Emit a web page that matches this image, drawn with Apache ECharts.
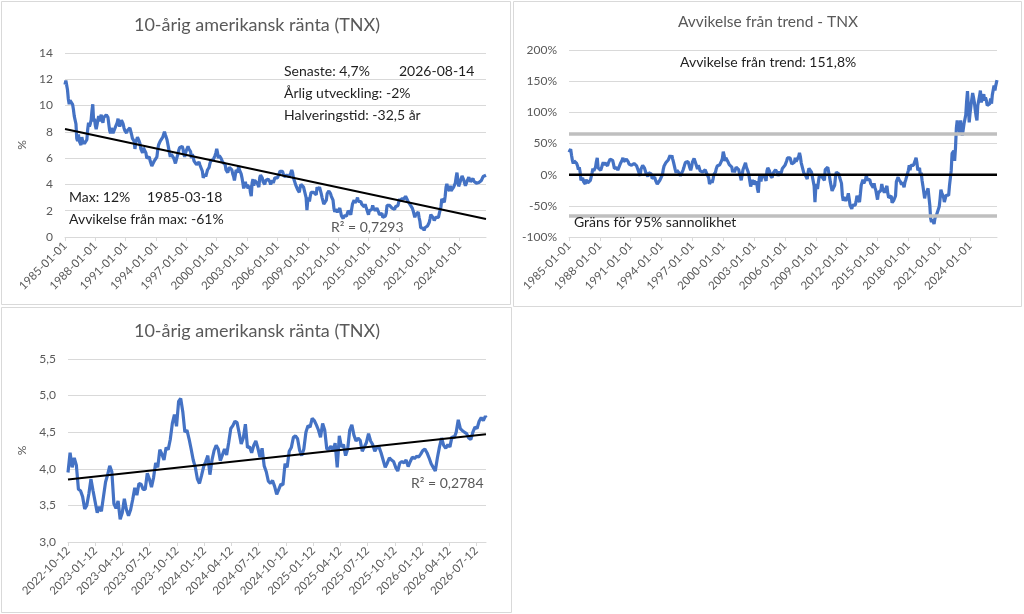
<!DOCTYPE html>
<html><head><meta charset="utf-8">
<script src="https://cdn.jsdelivr.net/npm/echarts@6/dist/echarts.min.js"></script>
<style>html,body{margin:0;padding:0;background:#fff;}#c{width:1024px;height:614px;}</style>
</head><body><div id="c"></div>
<script>
// ---------- DATA ----------
// Monthly 10-year yield (%) from 1985-01 to 2026-08 (last point dated 2026-08-14)
const longStart = [1985, 0];
const longLastDate = [2026, 7, 14];
const yieldMonthly = [
11.6,11.9,12.0,11.2,10.5,10.1,10.4,10.3,10.4,10.1,9.7,9.2,
9.2,8.6,7.5,7.3,7.8,7.3,7.2,7.0,7.6,7.3,7.2,7.1,
7.1,7.2,7.4,8.2,8.7,8.4,8.6,8.9,9.6,10.1,8.8,9.0,
8.5,8.2,8.5,8.9,9.2,8.8,9.1,9.3,8.9,8.7,9.1,9.1,
9.2,9.3,9.3,9.1,8.6,8.1,7.9,8.3,8.2,7.9,7.8,7.9,
8.4,8.5,8.7,9.0,8.6,8.4,8.5,8.9,8.9,8.6,8.3,8.1,
8.0,7.9,8.1,8.0,8.1,8.3,8.2,7.8,7.5,7.5,7.3,6.7,
7.2,7.3,7.6,7.5,7.3,7.1,6.7,6.6,6.4,6.8,6.9,6.7,
6.4,6.0,6.0,6.0,6.1,5.8,5.8,5.4,5.3,5.4,5.8,5.8,
5.7,6.1,6.6,7.0,7.1,7.3,7.2,7.3,7.6,7.8,8.0,7.8,
7.7,7.4,7.1,7.0,6.4,6.1,6.3,6.4,6.2,6.0,5.8,5.6,
5.6,6.1,6.3,6.6,6.8,6.9,6.8,6.9,6.7,6.3,6.1,6.4,
6.6,6.5,6.9,6.7,6.7,6.5,6.0,6.3,6.1,5.8,5.9,5.7,
5.5,5.6,5.6,5.7,5.5,5.4,5.5,5.0,4.5,4.4,4.8,4.6,
4.7,5.1,5.2,5.3,5.6,5.8,5.9,5.9,5.9,6.0,6.2,6.4,
6.7,6.4,6.0,6.2,6.3,6.0,6.0,5.7,5.8,5.7,5.5,5.1,
5.1,4.9,4.9,5.3,5.4,5.2,5.1,4.8,4.6,4.3,4.7,5.1,
5.0,4.9,5.4,5.1,5.0,4.8,4.5,4.1,3.7,3.9,4.2,3.8,
4.0,3.7,3.8,3.9,3.4,3.1,4.1,4.4,3.9,4.3,4.3,4.3,
4.1,4.0,3.8,4.5,4.7,4.6,4.5,4.2,4.1,4.0,4.3,4.2,
4.2,4.4,4.5,4.2,4.0,3.9,4.3,4.1,4.3,4.5,4.5,4.4,
4.5,4.6,4.8,5.0,5.1,5.1,5.0,4.8,4.6,4.6,4.5,4.7,
4.8,4.6,4.6,4.7,4.9,5.1,4.9,4.5,4.6,4.4,3.9,4.0,
3.6,3.5,3.4,3.8,4.0,4.0,4.0,3.8,3.8,3.9,3.0,2.05,
2.8,3.0,2.7,3.1,3.4,3.5,3.5,3.4,3.3,3.4,3.2,3.8,
3.6,3.6,3.8,3.7,3.3,3.0,2.9,2.5,2.5,2.6,2.8,3.3,
3.4,3.5,3.5,3.3,3.1,3.2,2.8,2.2,1.9,2.1,2.0,1.9,
1.8,2.0,2.2,1.9,1.6,1.6,1.4,1.6,1.6,1.7,1.6,1.8,
2.0,1.9,1.9,1.7,2.1,2.5,2.6,2.8,2.6,2.6,2.8,3.0,
2.7,2.7,2.7,2.7,2.5,2.5,2.6,2.3,2.5,2.3,2.2,2.2,
1.7,2.0,1.9,2.0,2.1,2.4,2.2,2.2,2.0,2.1,2.2,2.3,
1.9,1.7,1.8,1.8,1.8,1.5,1.4,1.6,1.6,1.8,2.4,2.4,
2.5,2.4,2.4,2.3,2.2,2.3,2.3,2.1,2.3,2.4,2.4,2.4,
2.7,2.9,2.7,2.9,2.9,2.9,2.9,2.9,3.1,3.2,3.0,2.7,
2.6,2.7,2.4,2.5,2.2,2.0,2.0,1.5,1.7,1.7,1.8,1.9,
1.5,1.2,0.7,0.55,0.65,0.66,0.5,0.7,0.68,0.85,0.84,0.92,
1.1,1.4,1.7,1.6,1.6,1.45,1.25,1.3,1.5,1.55,1.45,1.5,
1.8,1.8,2.3,2.9,2.85,3.0,2.65,3.1,3.8,4.05,3.7,3.85,
3.5,3.9,3.5,3.4,3.6,3.8,3.95,4.1,4.55,4.9,4.35,3.85,
4.0,4.25,4.2,4.65,4.5,4.35,4.1,3.9,3.75,4.25,4.2,4.55,
4.55,4.2,4.25,4.15,4.45,4.25,4.35,4.25,4.1,4.05,4.05,4.15,
4.2,4.05,4.3,4.35,4.6,4.45,4.6,4.7
];
// Linear trend line end values (%) for the long chart
const longTrend = [8.22, 1.37];

// Monthly deviation from trend (fraction), same dates as yieldMonthly
const deviationMonthly = [
0.36,0.39,0.41,0.31,0.23,0.18,0.22,0.21,0.22,0.18,0.14,0.08,
0.12,0.04,-0.09,-0.11,-0.05,-0.11,-0.13,-0.15,-0.08,-0.11,-0.13,-0.14,
-0.10,-0.09,-0.07,0.03,0.10,0.06,0.08,0.12,0.21,0.27,0.11,0.13,
0.11,0.07,0.11,0.16,0.20,0.15,0.19,0.22,0.16,0.14,0.19,0.19,
0.25,0.26,0.26,0.23,0.17,0.10,0.07,0.13,0.11,0.07,0.06,0.07,
0.18,0.20,0.23,0.27,0.21,0.18,0.20,0.25,0.25,0.21,0.17,0.14,
0.17,0.15,0.18,0.17,0.18,0.21,0.20,0.14,0.10,0.10,0.07,-0.02,
0.09,0.11,0.15,0.14,0.11,0.08,0.02,0.00,-0.03,0.03,0.05,0.02,
0.01,-0.06,-0.06,-0.06,-0.04,-0.09,-0.09,-0.15,-0.17,-0.15,-0.09,-0.09,
-0.07,0.00,0.08,0.14,0.16,0.19,0.18,0.19,0.24,0.27,0.31,0.27,
0.31,0.25,0.20,0.19,0.08,0.03,0.07,0.08,0.05,0.02,-0.02,-0.05,
-0.02,0.07,0.11,0.16,0.20,0.21,0.20,0.21,0.18,0.11,0.07,0.12,
0.20,0.19,0.26,0.22,0.22,0.19,0.09,0.15,0.11,0.06,0.08,0.04,
0.04,0.06,0.06,0.08,0.04,0.02,0.04,-0.05,-0.15,-0.17,-0.09,-0.13,
-0.08,0.00,0.02,0.04,0.10,0.14,0.16,0.16,0.16,0.18,0.22,0.26,
0.37,0.31,0.22,0.27,0.29,0.22,0.22,0.16,0.18,0.16,0.12,0.04,
0.08,0.04,0.04,0.12,0.14,0.10,0.08,0.02,-0.03,-0.09,0.00,0.08,
0.10,0.08,0.19,0.12,0.10,0.05,-0.01,-0.10,-0.19,-0.14,-0.08,-0.16,
-0.09,-0.16,-0.13,-0.11,-0.23,-0.29,-0.07,0.00,-0.11,-0.02,-0.02,-0.02,
-0.03,-0.05,-0.10,0.06,0.11,0.09,0.06,-0.01,-0.03,-0.05,0.02,-0.01,
0.03,0.08,0.10,0.03,-0.02,-0.04,0.05,0.00,0.05,0.10,0.10,0.08,
0.15,0.17,0.22,0.27,0.30,0.30,0.27,0.22,0.17,0.17,0.15,0.20,
0.27,0.21,0.21,0.24,0.29,0.35,0.29,0.19,0.21,0.16,0.03,0.06,
-0.01,-0.04,-0.07,0.04,0.10,0.10,0.10,0.04,0.04,0.07,-0.18,-0.44,
-0.20,-0.15,-0.23,-0.12,-0.03,0.00,0.00,-0.03,-0.06,-0.03,-0.09,0.08,
0.06,0.06,0.12,0.09,-0.03,-0.12,-0.14,-0.26,-0.26,-0.23,-0.17,-0.03,
0.04,0.07,0.07,0.01,-0.05,-0.02,-0.14,-0.33,-0.42,-0.36,-0.39,-0.42,
-0.43,-0.36,-0.30,-0.39,-0.49,-0.49,-0.55,-0.49,-0.49,-0.46,-0.49,-0.43,
-0.34,-0.37,-0.37,-0.44,-0.31,-0.17,-0.14,-0.08,-0.14,-0.14,-0.08,-0.01,
-0.08,-0.08,-0.08,-0.08,-0.14,-0.14,-0.11,-0.21,-0.14,-0.21,-0.25,-0.25,
-0.40,-0.29,-0.32,-0.29,-0.25,-0.15,-0.22,-0.22,-0.29,-0.25,-0.22,-0.18,
-0.30,-0.37,-0.34,-0.34,-0.34,-0.45,-0.48,-0.41,-0.41,-0.34,-0.11,-0.11,
-0.04,-0.08,-0.08,-0.12,-0.16,-0.12,-0.12,-0.20,-0.12,-0.08,-0.08,-0.08,
0.07,0.15,0.07,0.15,0.15,0.15,0.15,0.15,0.23,0.27,0.19,0.07,
0.07,0.11,-0.01,0.03,-0.09,-0.18,-0.18,-0.38,-0.30,-0.30,-0.26,-0.22,
-0.36,-0.49,-0.70,-0.76,-0.72,-0.72,-0.79,-0.70,-0.71,-0.64,-0.64,-0.61,
-0.51,-0.38,-0.24,-0.29,-0.29,-0.36,-0.44,-0.42,-0.33,-0.31,-0.36,-0.33,
-0.17,-0.17,0.06,0.34,0.31,0.38,0.22,0.43,0.75,0.87,0.71,0.77,
0.67,0.87,0.67,0.63,0.72,0.82,0.89,0.96,1.18,1.34,1.08,0.84,
0.99,1.11,1.09,1.31,1.24,1.16,1.04,0.94,0.87,1.11,1.09,1.26,
1.35,1.16,1.19,1.14,1.29,1.19,1.24,1.19,1.11,1.09,1.09,1.14,
1.22,1.14,1.28,1.30,1.43,1.35,1.43,1.518
];
const zeroLine = 0;
const limitLines = [0.655, -0.655];

// Weekly yield (%) from 2022-10-12, one value per 7 days; final point 2026-08-14
const shortStart = [2022, 9, 12];
const shortLastDate = [2026, 7, 14];
const yieldWeekly = [
3.95,4.22,4.02,4.15,4.05,3.72,3.70,3.62,3.45,3.50,3.66,3.86,
3.70,3.55,3.40,3.48,3.42,3.62,3.82,3.92,4.04,3.96,3.52,3.46,3.56,3.31,3.40,3.59,3.44,
3.36,3.44,3.58,3.74,3.64,3.80,3.79,3.72,3.72,3.94,3.86,3.75,3.88,4.08,4.02,4.26,4.20,4.12,
4.29,4.26,4.40,4.62,4.74,4.58,4.92,4.96,4.78,4.50,4.53,4.41,4.27,4.12,4.02,3.86,3.80,
3.91,4.03,4.10,4.18,3.92,4.12,4.25,4.32,4.27,4.11,4.19,4.27,4.19,4.36,4.55,4.59,4.65,
4.63,4.49,4.34,4.42,4.61,4.29,4.30,4.22,4.32,4.38,4.28,4.16,4.28,4.04,3.96,3.83,3.80,3.84,
3.76,3.65,3.72,3.79,3.78,4.07,4.02,4.24,4.29,4.43,4.45,4.41,4.25,4.18,4.27,4.50,4.59,
4.57,4.69,4.66,4.60,4.53,4.43,4.62,4.53,4.27,4.27,4.31,4.24,4.35,4.02,4.45,4.30,4.33,
4.18,4.27,4.53,4.60,4.46,4.38,4.42,4.39,4.24,4.30,4.36,4.48,4.38,4.33,4.24,4.29,4.30,4.22,
4.12,4.02,4.08,4.15,4.12,4.10,4.02,3.97,4.08,4.10,4.08,4.12,4.03,4.10,4.16,4.14,4.17,4.16,
4.20,4.25,4.27,4.22,4.15,4.07,4.02,3.97,4.15,4.30,4.42,4.32,4.28,4.33,4.30,4.44,4.42,
4.50,4.67,4.55,4.52,4.50,4.48,4.42,4.40,4.50,4.57,4.55,4.65,4.70,4.66,4.72,
4.70
];
const shortTrend = [3.855, 4.473];

// Tick label dates
const longTickYears = [1985,1988,1991,1994,1997,2000,2003,2006,2009,2012,2015,2018,2021,2024];
const shortTickDates = ['2022-10-12','2023-01-12','2023-04-12','2023-07-12','2023-10-12','2024-01-12','2024-04-12','2024-07-12','2024-10-12','2025-01-12','2025-04-12','2025-07-12','2025-10-12','2026-01-12','2026-04-12','2026-07-12'];

// Texts
const title1 = '10-årig amerikansk ränta (TNX)';
const title2 = 'Avvikelse från trend - TNX';
const notes1 = ['Senaste: 4,7%','2026-08-14','Årlig utveckling: -2%','Halveringstid: -32,5 år','Max: 12%','1985-03-18','Avvikelse från max: -61%','R² = 0,7293'];
const notes2 = ['Avvikelse från trend: 151,8%','Gräns för 95% sannolikhet'];
const notes3 = ['R² = 0,2784'];

// ---------- BUILD ----------
const ts = (y,m,d) => new Date(y,m,d).getTime();
const parseD = s => { const p = s.split('-').map(Number); return ts(p[0], p[1]-1, p[2]); };
const pad = n => (n<10?'0':'')+n;
const fmt = v => { const d = new Date(v); return d.getFullYear()+'-'+pad(d.getMonth()+1)+'-'+pad(d.getDate()); };

const longMin = ts(longStart[0], longStart[1], 1);
const longMax = ts(longLastDate[0], longLastDate[1], longLastDate[2]);
const longDates = yieldMonthly.map((_, i) => i === yieldMonthly.length-1 ? longMax : ts(longStart[0], longStart[1]+i, 1));
const longTicks = longTickYears.map(y => ts(y,0,1));

const shortMin = ts(shortStart[0], shortStart[1], shortStart[2]);
const shortMax = ts(shortLastDate[0], shortLastDate[1], shortLastDate[2]);
const shortDates = yieldWeekly.map((_, i) => i === yieldWeekly.length-1 ? shortMax : ts(shortStart[0], shortStart[1], shortStart[2]+7*i));
const shortTicks = shortTickDates.map(parseD);

const FONT = 'Lato, "Noto Sans", sans-serif';
const GREY = '#595959';
const GRID = '#d9d9d9';
const BLUE = '#4472c4';

function xAxisOpt(idx, min, max, ticks) {
  return {
    type: 'value', gridIndex: idx, min: min, max: max, scale: true,
    axisLine: { show: true, onZero: false, lineStyle: { color: GRID, width: 1 } },
    axisTick: { show: true, length: 4, lineStyle: { color: GRID }, customValues: ticks },
    axisLabel: { show: true, rotate: 45, margin: 7, color: GREY, fontFamily: FONT, fontSize: 11.5,
      customValues: ticks, formatter: v => fmt(v), hideOverlap: false },
    splitLine: { show: false }
  };
}
function yAxisOpt(idx, min, max, interval, formatter, name, gap) {
  return {
    type: 'value', gridIndex: idx, min: min, max: max, interval: interval,
    name: name || '', nameLocation: 'middle', nameRotate: 90, nameGap: gap || 30,
    nameTextStyle: { color: GREY, fontFamily: FONT, fontSize: 12 },
    axisLine: { show: false }, axisTick: { show: false },
    axisLabel: { color: GREY, fontFamily: FONT, fontSize: 12, margin: 12, formatter: formatter },
    splitLine: { show: true, lineStyle: { color: GRID, width: 1 } }
  };
}
function txt(x, y, text, size, color, align) {
  return { type: 'text', x: x, y: y, silent: true, z: 100,
    style: { text: text, font: size + 'px ' + FONT, fill: color, textAlign: align || 'left', align: align || 'left',
      textVerticalAlign: 'middle', verticalAlign: 'middle' } };
}
function rect(x, y, w, h) {
  return { type: 'rect', silent: true, z: 0, shape: { x: x, y: y, width: w, height: h },
    style: { fill: null, stroke: GRID, lineWidth: 1 } };
}

const chart = echarts.init(document.getElementById('c'), null, { renderer: 'canvas' });
chart.setOption({
  animation: false,
  backgroundColor: '#ffffff',
  grid: [
    { left: 65, top: 53, width: 421, height: 184 },
    { left: 569, top: 50, width: 428, height: 187 },
    { left: 68, top: 359, width: 418, height: 183 }
  ],
  xAxis: [
    xAxisOpt(0, longMin, longMax, longTicks),
    xAxisOpt(1, longMin, longMax, longTicks),
    xAxisOpt(2, shortMin, shortMax, shortTicks)
  ],
  yAxis: [
    yAxisOpt(0, 0, 14, 2, v => String(v), '%', 37),
    yAxisOpt(1, -1, 2, 0.5, v => Math.round(v*100) + '%'),
    yAxisOpt(2, 3, 5.5, 0.5, v => v.toFixed(1).replace('.', ','), '%', 40)
  ],
  series: [
    { type: 'line', xAxisIndex: 0, yAxisIndex: 0, showSymbol: false, silent: true,
      data: longDates.map((d, i) => [d, yieldMonthly[i]]),
      lineStyle: { color: BLUE, width: 3.2 }, z: 2 },
    { type: 'line', xAxisIndex: 0, yAxisIndex: 0, showSymbol: false, silent: true,
      data: [[longMin, longTrend[0]], [longMax, longTrend[1]]],
      lineStyle: { color: '#000', width: 2 }, z: 3 },
    { type: 'line', xAxisIndex: 1, yAxisIndex: 1, showSymbol: false, silent: true,
      data: longDates.map((d, i) => [d, deviationMonthly[i]]),
      lineStyle: { color: BLUE, width: 3.2 }, z: 2,
      markLine: { silent: true, symbol: 'none', label: { show: false }, animation: false,
        data: [
          { yAxis: limitLines[0], lineStyle: { color: '#bfbfbf', width: 3.5, type: 'solid' } },
          { yAxis: limitLines[1], lineStyle: { color: '#bfbfbf', width: 3.5, type: 'solid' } }
        ] } },
    { type: 'line', xAxisIndex: 1, yAxisIndex: 1, showSymbol: false, silent: true,
      data: [[longMin, zeroLine], [longMax, zeroLine]],
      lineStyle: { color: '#000', width: 2.5 }, z: 3 },
    { type: 'line', xAxisIndex: 2, yAxisIndex: 2, showSymbol: false, silent: true,
      data: shortDates.map((d, i) => [d, yieldWeekly[i]]),
      lineStyle: { color: BLUE, width: 3.2 }, z: 2 },
    { type: 'line', xAxisIndex: 2, yAxisIndex: 2, showSymbol: false, silent: true,
      data: [[shortMin, shortTrend[0]], [shortMax, shortTrend[1]]],
      lineStyle: { color: '#000', width: 2 }, z: 3 }
  ],
  graphic: [
    rect(1.5, 1.5, 509, 303),
    rect(513.5, 1.5, 508, 305),
    rect(1.5, 307.5, 510, 305),
    txt(257, 25, title1, 18, GREY, 'center'),
    txt(768, 22, title2, 15.5, GREY, 'center'),
    txt(257, 331, title1, 18, GREY, 'center'),
    txt(284, 71, notes1[0], 14, '#1f1f1f'),
    txt(399, 71, notes1[1], 14, '#1f1f1f'),
    txt(284, 93, notes1[2], 14, '#1f1f1f'),
    txt(284, 115, notes1[3], 14, '#1f1f1f'),
    txt(69, 197, notes1[4], 14, '#1f1f1f'),
    txt(147, 197, notes1[5], 14, '#1f1f1f'),
    txt(69, 219, notes1[6], 14, '#1f1f1f'),
    txt(331, 227, notes1[7], 14, GREY),
    txt(680, 62, notes2[0], 14, '#1f1f1f'),
    txt(574, 222, notes2[1], 14, '#1f1f1f'),
    txt(411, 483, notes3[0], 14, GREY)
  ]
});
</script>
</body></html>
